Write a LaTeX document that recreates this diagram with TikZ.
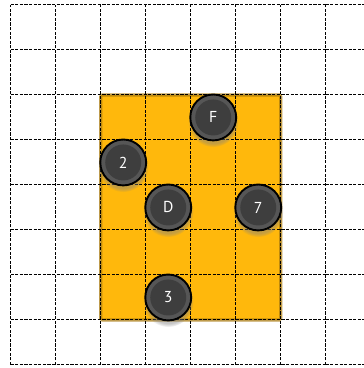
\documentclass[tikz,border=0pt]{standalone}
\usepackage{fontspec}
\setsansfont{PT Sans}
\definecolor{PadOrange}{HTML}{FFB80C}
\definecolor{PadEdge}{HTML}{A87A10}
\definecolor{TokRim}{HTML}{565656}
\definecolor{TokCore}{HTML}{3E3E3E}
\usetikzlibrary{shadows, positioning}

\begin{document}
\begin{tikzpicture}[
      token/.style={circle, minimum size=1.02cm, inner sep=0pt,
         draw=black, line width=1.2pt, fill=TokRim, text=white,
         font=\sffamily,
         circular drop shadow={shadow xshift=0pt, shadow yshift=-2.5pt,
            shadow scale=1.1, opacity=0.45},
         path picture={\fill[TokCore] (path picture bounding box.center) circle (0.4cm);}},
      gridline/.style={dash pattern=on 2pt off 0.9pt, line width=0.65pt}
   ]
   \useasboundingbox (-0.238,-0.067) rectangle (7.85,8.11);
   % Zone
   \fill[PadOrange] (2,1) rectangle (6,6);
   \draw[PadEdge, opacity=0.75, line width=2pt, rounded corners=1pt] (2,1) rectangle (6,6);
   % Grid
   \draw[gridline] (0,0) grid (7,8);
   \foreach \y in {0,...,8}
      \draw[gridline] (7,\y) -- (7.85,\y);
   % Tokens
   \node[token] (tokF) at (4.5,5.5) {F};
   \node[token] (tok2) at (2.5,4.5) {2};
   \node[token] (tokD) at (3.5,3.5) {D};
   \node[token] (tok7) at (5.5,3.5) {7};
   \node[token] (tok3) at (3.5,1.5) {3};
\end{tikzpicture}
\end{document}
